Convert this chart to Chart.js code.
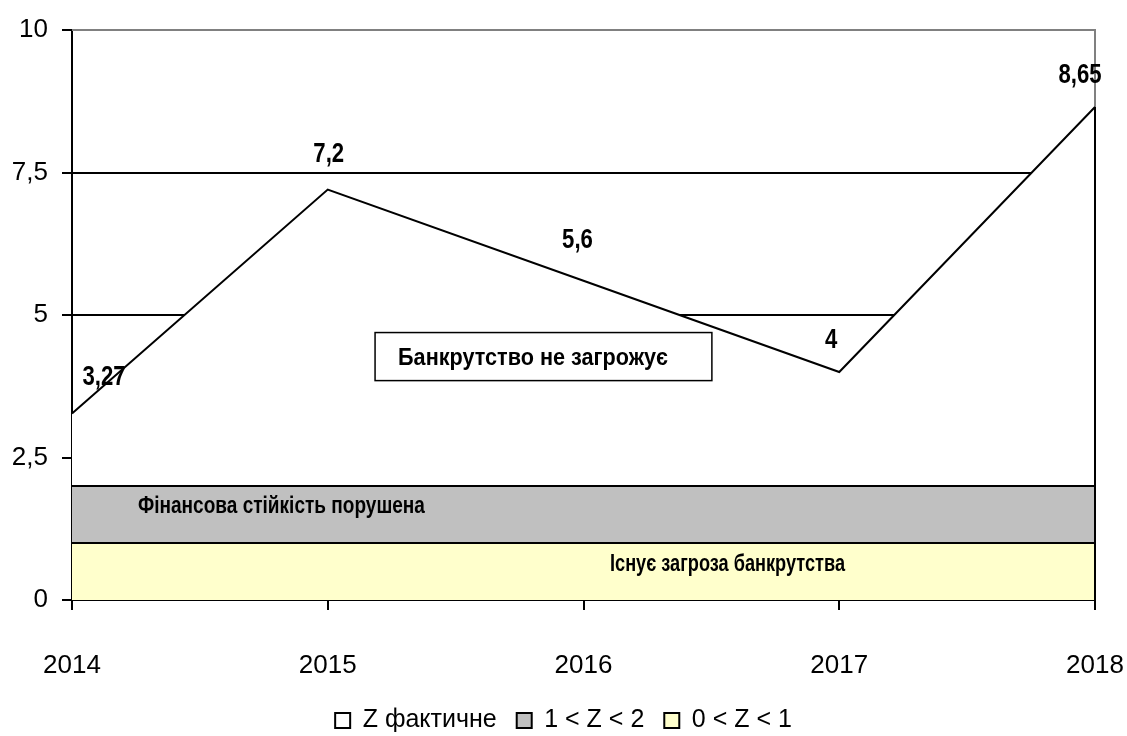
<!DOCTYPE html>
<html>
<head>
<meta charset="utf-8">
<script src="https://cdn.jsdelivr.net/npm/chart.js@4.4.1/dist/chart.umd.min.js"></script>
<style>
html,body{margin:0;padding:0;background:#fff;}
#wrap{width:1127px;height:736px;position:relative;}
</style>
</head>
<body>
<div id="wrap"><canvas id="c" width="1127" height="736"></canvas></div>
<script>
const categories = ['2014', '2015', '2016', '2017', '2018'];
const zActual = [3.27, 7.2, 5.6, 4, 8.65];
const zActualLabels = ['3,27', '7,2', '5,6', '4', '8,65'];
const bandUpper = [2, 2, 2, 2, 2];
const bandLower = [1, 1, 1, 1, 1];
const seriesNames = ['Z фактичне', '1 < Z < 2', '0 < Z < 1'];
const yTicks = [0, 2.5, 5, 7.5, 10];
const yTickLabels = ['0', '2,5', '5', '7,5', '10'];
const zoneTexts = ['Банкрутство не загрожує', 'Фінансова стійкість порушена', 'Існує загроза банкрутства'];

const FONT = '"Liberation Sans", Arial, sans-serif';
const NARROW = 0.82;

// label offsets (px) relative to data point
const labelOffsets = [[32, -36], [1, -35], [-6, -40], [-8, -31], [-15, -31]];

function narrowText(ctx, text, x, y, size, align, targetWidth) {
  ctx.save();
  ctx.font = 'bold ' + size + 'px ' + FONT;
  const w = ctx.measureText(text).width;
  const sx = targetWidth ? targetWidth / w : NARROW;
  ctx.translate(x, y);
  ctx.scale(sx, 1);
  ctx.textAlign = align;
  ctx.textBaseline = 'middle';
  ctx.fillStyle = '#000';
  ctx.fillText(text, 0, 0);
  ctx.restore();
}

const decor = {
  id: 'decor',
  beforeDatasetsDraw(chart) {
    const {ctx, chartArea: a} = chart;
    ctx.save();
    ctx.strokeStyle = '#808080';
    ctx.lineWidth = 2;
    ctx.beginPath();
    ctx.moveTo(a.left, a.top);
    ctx.lineTo(a.right, a.top);
    ctx.lineTo(a.right, a.bottom);
    ctx.stroke();
    ctx.restore();
  },
  afterDatasetsDraw(chart) {
    const {ctx, scales: {x, y}} = chart;
    ctx.save();
    const lastI = zActual.length - 1;
    ctx.strokeStyle = '#000';
    ctx.lineWidth = 2;
    ctx.beginPath();
    ctx.moveTo(x.getPixelForValue(lastI), y.getPixelForValue(zActual[lastI]));
    ctx.lineTo(x.getPixelForValue(lastI), y.getPixelForValue(0));
    ctx.stroke();

    zActual.forEach((v, i) => {
      const px = x.getPixelForValue(i) + labelOffsets[i][0];
      const py = y.getPixelForValue(v) + labelOffsets[i][1];
      narrowText(ctx, zActualLabels[i], px, py, 27, 'center');
    });

    const bx1 = x.getPixelForValue(1.185), bx2 = x.getPixelForValue(2.502);
    const by1 = y.getPixelForValue(4.692), by2 = y.getPixelForValue(3.849);
    ctx.fillStyle = '#fff';
    ctx.fillRect(bx1, by1, bx2 - bx1, by2 - by1);
    ctx.strokeStyle = '#000';
    ctx.lineWidth = 1.5;
    ctx.strokeRect(bx1, by1, bx2 - bx1, by2 - by1);
    narrowText(ctx, zoneTexts[0], bx1 + 23, (by1 + by2) / 2 + 2, 24, 'left', 270);

    narrowText(ctx, zoneTexts[1], x.getPixelForValue(0.819), y.getPixelForValue(1.65), 24, 'center', 287);
    narrowText(ctx, zoneTexts[2], x.getPixelForValue(2.563), y.getPixelForValue(0.615), 23, 'center', 235);
    ctx.restore();
  }
};

new Chart(document.getElementById('c'), {
  type: 'line',
  data: {
    labels: categories,
    datasets: [
      {
        label: seriesNames[0],
        data: zActual,
        borderColor: '#000',
        backgroundColor: '#ffffff',
        borderWidth: 2,
        fill: 'origin',
        pointRadius: 0,
        tension: 0,
        order: 3
      },
      {
        label: seriesNames[1],
        data: bandUpper,
        borderColor: '#000',
        backgroundColor: '#c0c0c0',
        borderWidth: 2,
        fill: {value: 1},
        pointRadius: 0,
        order: 2
      },
      {
        label: seriesNames[2],
        data: bandLower,
        borderColor: '#000',
        backgroundColor: '#ffffcc',
        borderWidth: 2,
        fill: 'origin',
        pointRadius: 0,
        order: 1
      }
    ]
  },
  options: {
    responsive: false,
    animation: false,
    layout: {padding: {top: 30, right: 0, left: 0, bottom: -7}},
    plugins: {
      legend: {
        position: 'bottom',
        labels: {
          color: '#000',
          font: {family: FONT, size: 25},
          boxWidth: 15,
          boxHeight: 15,
          padding: 20,
          sort: (a, b) => a.datasetIndex - b.datasetIndex
        }
      },
      tooltip: {enabled: false}
    },
    scales: {
      x: {
        offset: false,
        grid: {drawOnChartArea: false, drawTicks: true, tickLength: 10, color: '#000', lineWidth: 2},
        border: {display: true, color: '#000', width: 2},
        ticks: {color: '#000', font: {family: FONT, size: 26}, padding: 40, maxRotation: 0},
        afterFit(s) { s.height = 88; s.paddingRight = 32; s.paddingLeft = 0; }
      },
      y: {
        min: 0,
        max: 10,
        afterBuildTicks(s) { s.ticks = yTicks.map(v => ({value: v})); },
        grid: {
          color: (c) => c.tick && c.tick.value === 10 ? '#808080' : '#000',
          lineWidth: 2,
          tickLength: 10,
          tickColor: '#000'
        },
        border: {display: true, color: '#000', width: 2},
        ticks: {
          color: '#000',
          font: {family: FONT, size: 26},
          padding: 14,
          callback: (v) => yTickLabels[yTicks.indexOf(v)]
        },
        afterFit(s) { s.width = 72; }
      }
    }
  },
  plugins: [decor]
});
</script>
</body>
</html>
